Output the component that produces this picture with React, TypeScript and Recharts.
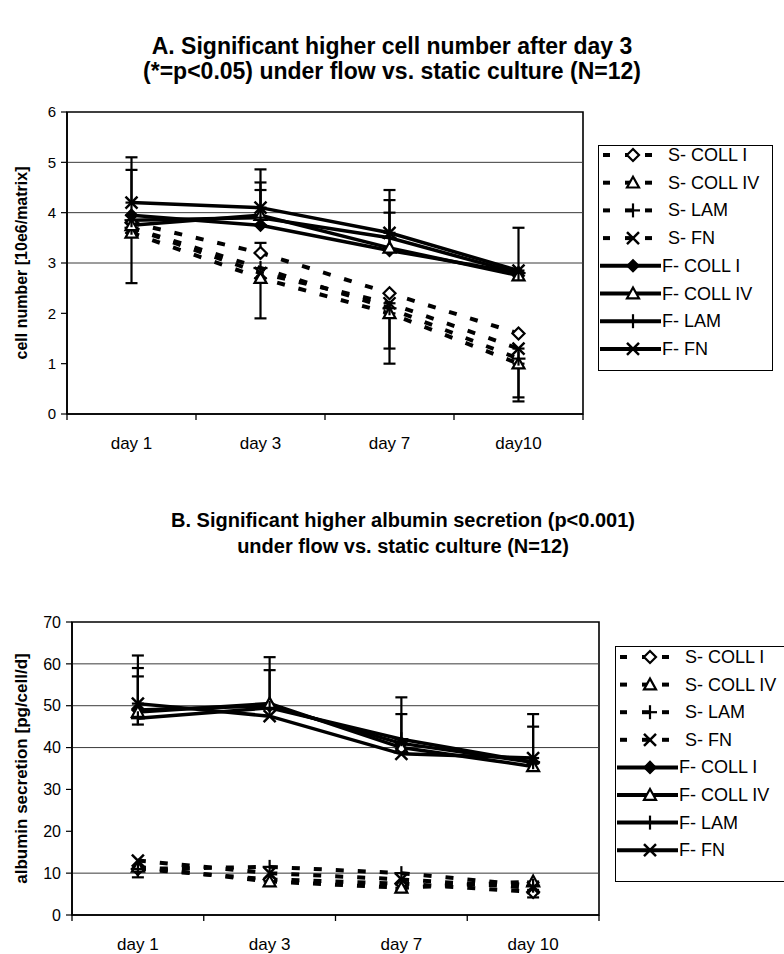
import React from 'react';
import { LineChart, Line, XAxis, YAxis, ErrorBar, ReferenceLine, ReferenceArea, Legend } from 'recharts';

const FONT = '"Liberation Sans", Arial, Helvetica, sans-serif';

// ---------- shared series metadata ----------
const seriesNames = ['S- COLL I', 'S- COLL IV', 'S- LAM', 'S- FN', 'F- COLL I', 'F- COLL IV', 'F- LAM', 'F- FN'];
const seriesKeys = ['sColl1', 'sColl4', 'sLam', 'sFn', 'fColl1', 'fColl4', 'fLam', 'fFn'];
const seriesShapes = ['diamondOpen', 'triangle', 'plus', 'cross', 'diamond', 'triangle', 'plus', 'cross'];
const seriesDashed = [true, true, true, true, false, false, false, false];

type Err = [number, number] | null; // [below, above]

// ---------- Chart A : cell number ----------
const titleA = ['A. Significant higher cell number after day 3', '(*=p<0.05) under flow vs. static culture (N=12)'];
const daysA = ['day 1', 'day 3', 'day 7', 'day10'];
const yTicksA = [0, 1, 2, 3, 4, 5, 6];
const gridA = [3, 4, 5];
const yLabelA = 'cell number [10e6/matrix]';

const aSColl1 = [3.8, 3.2, 2.4, 1.6];
const aSColl4 = [3.6, 2.7, 2.0, 1.0];
const aSLam = [3.7, 2.9, 2.1, 1.1];
const aSFn = [3.7, 2.8, 2.2, 1.3];
const aFColl1 = [3.95, 3.75, 3.25, 2.8];
const aFColl4 = [3.75, 3.95, 3.3, 2.75];
const aFLam = [3.85, 3.9, 3.5, 2.8];
const aFFn = [4.2, 4.1, 3.6, 2.85];

const aSColl1Err: Err[] = [null, [0, 0.2], null, null];
const aSColl4Err: Err[] = [[1.0, 0], [0.8, 0], [1.0, 0], [0.67, 0]];
const aSLamErr: Err[] = [null, null, null, null];
const aSFnErr: Err[] = [null, null, [0.9, 0], [1.05, 0]];
const aFColl1Err: Err[] = [[0, 0.9], [0, 0.85], [0, 1.0], null];
const aFColl4Err: Err[] = [null, null, null, null];
const aFLamErr: Err[] = [null, [0, 0.55], [0, 0.5], null];
const aFFnErr: Err[] = [[0, 0.9], [0, 0.76], [0, 0.85], [0, 0.85]];

// ---------- Chart B : albumin secretion ----------
const titleB = ['B. Significant higher albumin secretion (p<0.001)', 'under flow vs. static culture (N=12)'];
const daysB = ['day 1', 'day 3', 'day 7', 'day 10'];
const yTicksB = [0, 10, 20, 30, 40, 50, 60, 70];
const gridB = [10, 40, 50, 60];
const yLabelB = 'albumin secretion [pg/cell/d]';

const bSColl1 = [11, 8.5, 7.5, 5.5];
const bSColl4 = [11.5, 8, 6.5, 8];
const bSLam = [11, 11.5, 10, 7];
const bSFn = [13, 10, 8.5, 6.5];
const bFColl1 = [49, 50, 41, 36.5];
const bFColl4 = [48.5, 50.5, 40, 35.5];
const bFLam = [47, 49.5, 42, 36.5];
const bFFn = [50.5, 47.5, 38.5, 37.5];

const bSColl1Err: Err[] = [[2, 0], null, [1.5, 0], [1.3, 0]];
const bSColl4Err: Err[] = [null, [1, 0], [1, 0], [2, 0]];
const bSLamErr: Err[] = [null, null, null, null];
const bSFnErr: Err[] = [null, null, null, null];
const bFColl1Err: Err[] = [[0, 10], [0, 11.6], [0, 7], null];
const bFColl4Err: Err[] = [null, null, null, null];
const bFLamErr: Err[] = [[1.5, 10], [0, 9], [0, 10], [0, 8.5]];
const bFFnErr: Err[] = [[0, 11.5], null, null, [0, 10.5]];

const buildRows = (labels: string[], values: number[][], errs: Err[][]) =>
  labels.map((label, i) => {
    const row: any = { label, pos: i + 0.5 };
    seriesKeys.forEach((k, s) => {
      row[k] = values[s][i];
      row[k + 'Err'] = errs[s][i];
    });
    return row;
  });

const rowsA = buildRows(
  daysA,
  [aSColl1, aSColl4, aSLam, aSFn, aFColl1, aFColl4, aFLam, aFFn],
  [aSColl1Err, aSColl4Err, aSLamErr, aSFnErr, aFColl1Err, aFColl4Err, aFLamErr, aFFnErr]
);
const rowsB = buildRows(
  daysB,
  [bSColl1, bSColl4, bSLam, bSFn, bFColl1, bFColl4, bFLam, bFFn],
  [bSColl1Err, bSColl4Err, bSLamErr, bSFnErr, bFColl1Err, bFColl4Err, bFLamErr, bFFnErr]
);

// ---------- marker shapes ----------
const Marker = ({ cx, cy, shape, s = 6 }: any) => {
  if (cx == null || cy == null || isNaN(cx) || isNaN(cy)) return null;
  switch (shape) {
    case 'diamond':
      return <polygon points={`${cx},${cy - s} ${cx + s},${cy} ${cx},${cy + s} ${cx - s},${cy}`} fill="#000" stroke="#000" strokeWidth={1.5} />;
    case 'diamondOpen':
      return <polygon points={`${cx},${cy - s} ${cx + s},${cy} ${cx},${cy + s} ${cx - s},${cy}`} fill="#fff" stroke="#000" strokeWidth={2.2} />;
    case 'triangle':
      return <polygon points={`${cx},${cy - s} ${cx + s},${cy + s * 0.8} ${cx - s},${cy + s * 0.8}`} fill="#fff" stroke="#000" strokeWidth={2.2} />;
    case 'plus':
      return (
        <g stroke="#000" strokeWidth={2.2}>
          <line x1={cx - s - 1} y1={cy} x2={cx + s + 1} y2={cy} />
          <line x1={cx} y1={cy - s - 1} x2={cx} y2={cy + s + 1} />
        </g>
      );
    case 'cross':
      return (
        <g stroke="#000" strokeWidth={2.4}>
          <line x1={cx - s} y1={cy - s} x2={cx + s} y2={cy + s} />
          <line x1={cx - s} y1={cy + s} x2={cx + s} y2={cy - s} />
        </g>
      );
    default:
      return null;
  }
};

const makeXTick = (labels: string[], fontSize: number) => (props: any) => {
  const { x, y, payload } = props;
  const v = Number(payload.value);
  if (Number.isInteger(v)) {
    return <line x1={x} y1={y} x2={x} y2={y + 6} stroke="#000" strokeWidth={1.3} />;
  }
  return (
    <text x={x} y={y + 35} textAnchor="middle" fontSize={fontSize} fontFamily={FONT} fill="#000">
      {labels[Math.floor(v)]}
    </text>
  );
};

const makeYLabel = (text: string, fontSize: number) => (props: any) => {
  const vb = props.viewBox || {};
  const cx = vb.x - 6;
  const cy = vb.y + vb.height / 2;
  return (
    <text x={cx} y={cy} transform={`rotate(-90, ${cx}, ${cy})`} textAnchor="middle" dominantBaseline="central"
      fontSize={fontSize} fontWeight="bold" fontFamily={FONT} fill="#000">
      {text}
    </text>
  );
};

const LegendBox = ({ width, height, fontSize, firstY, rowH }: any) => (
  <svg width={width} height={height} style={{ display: 'block', overflow: 'visible' }}>
    <rect x={0.5} y={0.5} width={width - 1} height={height - 1} fill="#fff" stroke="#000" strokeWidth={1} />
    {seriesNames.map((name, i) => {
      const y = firstY + i * rowH;
      const dashed = seriesDashed[i];
      return (
        <g key={name}>
          {dashed ? (
            <g stroke="#000" strokeWidth={4}>
              <line x1={5} y1={y} x2={12} y2={y} />
              <line x1={27} y1={y} x2={35} y2={y} />
              <line x1={47} y1={y} x2={54} y2={y} />
            </g>
          ) : (
            <line x1={2} y1={y} x2={63} y2={y} stroke="#000" strokeWidth={4} />
          )}
          <Marker cx={35} cy={y} shape={seriesShapes[i]} />
          <text x={dashed ? 70 : 64} y={y} dominantBaseline="central" fontSize={fontSize} fontFamily={FONT} fill="#000">
            {name}
          </text>
        </g>
      );
    })}
  </svg>
);

const ChartPanel = ({ cfg }: any) => (
  <LineChart width={784} height={cfg.height} data={cfg.rows} margin={cfg.margin}>
    {cfg.grid.map((g: number) => (
      <ReferenceLine key={g} y={g} stroke="#3a3a3a" strokeWidth={1} />
    ))}
    <ReferenceArea x1={0} x2={4} y1={cfg.yTicks[0]} y2={cfg.yTicks[cfg.yTicks.length - 1]} fill="none" stroke="#000" strokeWidth={1.6} />
    <XAxis
      type="number"
      dataKey="pos"
      domain={[0, 4]}
      ticks={[0, 0.5, 1, 1.5, 2, 2.5, 3, 3.5, 4]}
      interval={0}
      tickLine={false}
      tickSize={0}
      tickMargin={0}
      axisLine={{ stroke: '#000', strokeWidth: 1.6 }}
      tick={makeXTick(cfg.labels, cfg.xFont)}
      height={30}
    />
    <YAxis
      type="number"
      domain={[cfg.yTicks[0], cfg.yTicks[cfg.yTicks.length - 1]]}
      ticks={cfg.yTicks}
      interval={0}
      tick={{ fontSize: cfg.yFont, fill: '#000', fontFamily: FONT }}
      tickLine={{ stroke: '#000', strokeWidth: 1.2 }}
      tickSize={6}
      tickMargin={5}
      axisLine={{ stroke: '#000', strokeWidth: 1.6 }}
      width={cfg.yAxisW}
      label={makeYLabel(cfg.yLabel, cfg.yLabelFont)}
    />
    {seriesKeys.map((k, i) => (
      <Line
        key={k}
        type="linear"
        dataKey={k}
        name={seriesNames[i]}
        stroke="#000"
        strokeWidth={seriesDashed[i] ? 4 : 3.5}
        strokeDasharray={seriesDashed[i] ? '8 14' : undefined}
        isAnimationActive={false}
        activeDot={false}
        dot={(p: any) => (
          <g key={`${k}-${p.index}`}>
            <Marker cx={p.cx} cy={p.cy} shape={seriesShapes[i]} />
          </g>
        )}
      >
        <ErrorBar dataKey={k + 'Err'} direction="y" width={6} strokeWidth={2.2} stroke="#000" />
      </Line>
    ))}
    <Legend
      layout="vertical"
      align="center"
      verticalAlign="middle"
      wrapperStyle={{ left: cfg.legend.left, top: cfg.legend.top, width: cfg.legend.width, height: cfg.legend.height }}
      content={() => <LegendBox {...cfg.legend} />}
    />
  </LineChart>
);

const cfgA = {
  height: 477,
  rows: rowsA,
  labels: daysA,
  yTicks: yTicksA,
  grid: gridA,
  yLabel: yLabelA,
  yLabelFont: 16,
  xFont: 17,
  yFont: 15,
  yAxisW: 40,
  margin: { top: 112, right: 201, bottom: 33, left: 27 },
  legend: { left: 598, top: 145, width: 175, height: 226, fontSize: 18, firstY: 10, rowH: 27.7 },
};

const cfgB = {
  height: 477,
  rows: rowsB,
  labels: daysB,
  yTicks: yTicksB,
  grid: gridB,
  yLabel: yLabelB,
  yLabelFont: 17,
  xFont: 17,
  yFont: 16,
  yAxisW: 45,
  margin: { top: 145, right: 185, bottom: 9, left: 27 },
  legend: { left: 615, top: 169, width: 190, height: 236, fontSize: 18, firstY: 11, rowH: 27.6 },
};

const Title = ({ lines, cx, ys, fontSize }: any) => (
  <>
    {lines.map((t: string, i: number) => (
      <div
        key={t}
        style={{
          position: 'absolute',
          left: cx - 392,
          width: 784,
          top: ys[i] - fontSize * 0.6,
          height: fontSize * 1.2,
          lineHeight: `${fontSize * 1.2}px`,
          textAlign: 'center',
          fontFamily: FONT,
          fontWeight: 'bold',
          fontSize,
          color: '#000',
          whiteSpace: 'nowrap',
        }}
      >
        {t}
      </div>
    ))}
  </>
);

export default function App() {
  return (
    <div style={{ position: 'absolute', left: 0, top: 0, width: 784, height: 954, overflow: 'hidden', background: '#fff' }}>
      <div style={{ position: 'absolute', left: 0, top: 0 }}>
        <ChartPanel cfg={cfgA} />
      </div>
      <div style={{ position: 'absolute', left: 0, top: 477 }}>
        <ChartPanel cfg={cfgB} />
      </div>
      <Title lines={titleA} cx={392} ys={[47, 72]} fontSize={23} />
      <Title lines={titleB} cx={403} ys={[520, 546]} fontSize={20} />
    </div>
  );
}
